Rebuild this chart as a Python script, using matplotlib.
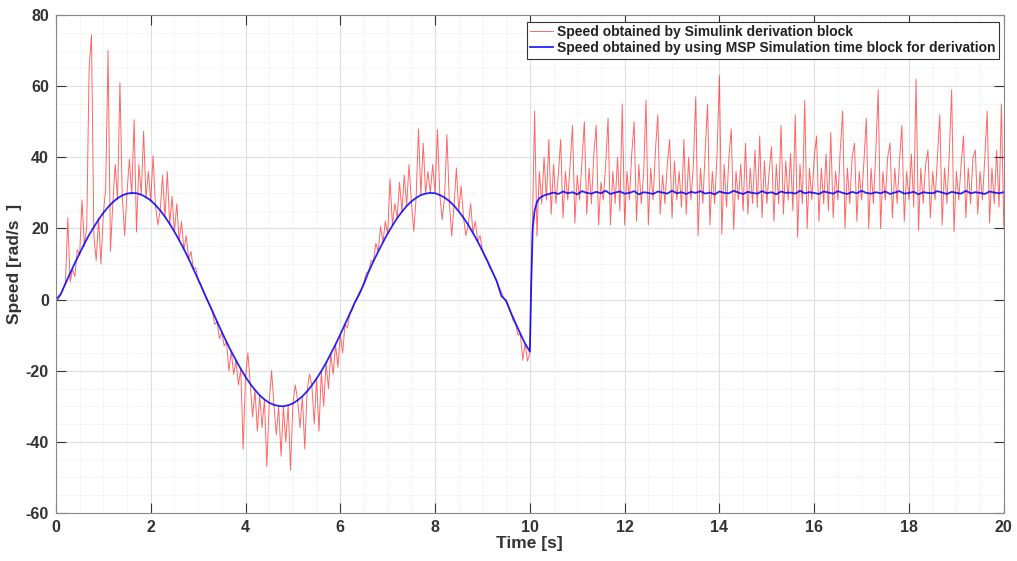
import numpy as np
import matplotlib
matplotlib.use("Agg")
import matplotlib.pyplot as plt
from matplotlib.ticker import MultipleLocator

plt.rcParams['font.family'] = ['Liberation Sans', 'DejaVu Sans']
plt.rcParams['font.weight'] = 'bold'
plt.rcParams['axes.unicode_minus'] = False

#=====DATA=====
# red : Simulink derivation block, sampled every 0.05 s
red_time_a = np.linspace(0, 10, 201)
red_speed_a = [
    0, 0, 1.5, 3.0, 4.5, 23, 5.0, 8.5, 6.5, 14,
    12.5, 28, 15.0, 20.5, 65, 74.5, 18.0, 11.0, 23.0, 10.0,
    24.0, 31.5, 70, 13.6, 27.0, 38, 28.0, 61, 29.0, 18,
    30, 39.5, 29.5, 50.6, 19.0, 38, 29.5, 47.3, 28.5, 36,
    27.5, 40.5, 26.5, 21, 25, 35, 23, 36, 21, 29,
    19, 27, 16.5, 22, 14, 18, 11.5, 13.5, 8.6, 9,
    5.5, 4.5, 2.7, 1.0, -0.3, -1.8, -3.2, -7, -6.2, -11,
    -9.1, -13, -12.0, -20, -14.6, -21, -17.1, -24, -19.5, -42,
    -21.7, -15, -23.7, -33, -25.4, -37, -26.9, -36, -28, -47,
    -29, -20, -29.6, -38, -30, -44, -30, -40, -29.7, -48,
    -29.2, -24, -28.3, -36, -27.2, -42, -25.8, -21, -24.1, -35,
    -22.2, -37, -20.1, -30, -17.8, -25, -15.2, -21, -12.6, -19,
    -9.8, -15, -6.9, -8, -4.0, -3, -1.0, 0.5, 2.0, 3.0,
    5.0, 7.5, 7.9, 11, 10.8, 15.9, 13.5, 20.6, 16.1, 22,
    18.6, 34, 20.8, 27, 22.9, 33, 24.7, 35, 26.3, 38,
    27.6, 19.2, 28.6, 48, 29.4, 44, 29.8, 36, 30, 38,
    29.9, 47.8, 29.4, 22.5, 28.7, 46.4, 27.7, 17.8, 26.4, 37,
    24.8, 32, 23.0, 18, 21.0, 27, 18.7, 22, 16.3, 18,
    13.7, 12, 11.0, 9, 8.1, 6.5, 5.2, 3.5, 2.2, 0.5,
    -0.8, -2, -3.7, -6, -6.7, -10, -9.6, -17, -12.4, -17.3,
    -15.0,
]
red_time_b = np.linspace(10.05, 20.0, 200)
red_speed_b = [
    18, 53, 17.8, 36, 27, 40, 28, 45, 24, 38,
    27, 35, 45, 23, 36, 28, 38, 49, 21.5, 35,
    28, 39, 50, 24, 37, 27, 41, 49, 21, 33,
    28, 38, 51, 21, 36, 27, 40, 25, 55, 21,
    36, 28, 41, 50, 22, 38, 27, 35, 56, 21,
    37, 28, 42, 52, 24, 35, 27, 38, 45, 23,
    39, 28, 36, 26, 45, 24, 40, 28, 38, 57,
    18, 37, 27, 42, 55, 21, 36, 27, 41, 63,
    18.3, 38, 26, 40, 48, 19.7, 36, 28, 38, 25,
    44, 24, 37, 27, 42, 26, 46, 23, 39, 27,
    36, 43, 22, 38, 27, 49, 24, 39, 28, 41,
    25, 52, 17.5, 38, 27, 56, 20, 37, 28, 40,
    46, 22, 37, 27, 41, 25, 47, 23, 36, 28,
    42, 53, 20, 37, 27, 40, 44, 22, 36, 28,
    39, 51, 20, 37, 27, 42, 59, 20, 36, 28,
    40, 44, 23, 37, 27, 39, 49, 22, 36, 28,
    41, 26, 62, 19.5, 37, 27, 38, 42, 23, 36,
    28, 40, 52, 21, 37, 27, 41, 59, 19, 36,
    28, 38, 46, 23, 37, 27, 40, 42, 24, 36,
    28, 40, 53, 21.5, 37, 27, 42, 26, 55, 20.5,
]

# blue : MSP simulation time block
blue_time_a = np.linspace(0, 10, 101)
blue_speed_a = [
    0, 1.5, 4.5, 7.4, 10.3, 13.0, 15.7, 18.2, 20.4, 22.5,
    24.4, 26.0, 27.4, 28.5, 29.3, 29.8, 30.0, 29.9, 29.5, 28.8,
    27.9, 26.6, 25.1, 23.3, 21.3, 19.1, 16.7, 14.2, 11.5, 8.6,
    5.7, 2.7, -0.3, -3.2, -6.2, -9.1, -11.9, -14.6, -17.1, -19.5,
    -21.7, -23.7, -25.4, -26.9, -28.1, -29.0, -29.6, -29.9, -30.0, -29.7,
    -29.2, -28.3, -27.2, -25.8, -24.1, -22.2, -20.1, -17.8, -15.2, -12.6,
    -9.8, -6.9, -4.0, -1.0, 1.5, 4.5, 7.9, 10.8, 13.5, 16.1,
    18.6, 20.8, 22.9, 24.7, 26.3, 27.6, 28.6, 29.4, 29.8, 30.0,
    29.9, 29.4, 28.7, 27.7, 26.4, 24.8, 23.0, 21.0, 18.7, 16.3,
    13.7, 11.0, 8.1, 5.2, 1.0, -0.3, -3.7, -6.7, -9.6, -12.4,
    -14.6,
]
blue_time_b = [10.03, 10.06, 10.1, 10.15, 10.2, 10.3, 10.4]
blue_speed_b = [5, 20, 25, 27.5, 28.5, 29.3, 29.7]
blue_time_c = np.linspace(10.5, 20.0, 96)
blue_speed_c = [
    30.1, 29.7, 30.4, 29.9, 30.2, 29.6, 30.5, 30.0, 29.8, 30.3,
    29.9, 30.6, 29.7, 30.1, 30.4, 29.8, 30.0, 30.5, 29.6, 30.2,
    30.0, 29.7, 30.4, 30.1, 29.8, 30.6, 29.9, 30.2, 29.7, 30.3,
    30.0, 30.5, 29.8, 30.1, 29.6, 30.4, 30.0, 29.9, 30.6, 30.1,
    29.7, 30.3, 30.0, 29.8, 30.5, 29.9, 30.2, 29.6, 30.4, 30.0,
    30.1, 29.8, 30.6, 29.9, 30.2, 30.0, 29.7, 30.4, 30.1, 29.8,
    30.5, 30.0, 29.7, 30.3, 29.9, 30.6, 30.0, 29.8, 30.2, 29.9,
    30.4, 29.7, 30.1, 30.5, 29.8, 30.0, 30.3, 29.6, 30.2, 30.0,
    29.9, 30.5, 30.1, 29.7, 30.3, 30.0, 29.8, 30.6, 29.9, 30.2,
    30.0, 29.7, 30.4, 30.1, 29.9, 30.2,
]

red_t = np.concatenate([red_time_a, red_time_b])
red_v = np.concatenate([red_speed_a, red_speed_b])
blue_t = np.concatenate([blue_time_a, blue_time_b, blue_time_c])
blue_v = np.concatenate([blue_speed_a, blue_speed_b, blue_speed_c])

#=====FRONTEND=====
fig = plt.figure(figsize=(10.17, 5.61), dpi=100)
ax = fig.add_axes([0.055, 0.0856, 0.932, 0.8875])

ax.plot(red_t, red_v, color="red", lw=0.7, alpha=0.6,
        label="Speed obtained by Simulink derivation block")
ax.plot(blue_t, blue_v, color="blue", lw=1.3, alpha=0.85,
        label="Speed obtained by using MSP Simulation time block for derivation")

ax.set_xlim(0, 20)
ax.set_ylim(-60, 80)
ax.xaxis.set_major_locator(MultipleLocator(2))
ax.yaxis.set_major_locator(MultipleLocator(20))
ax.xaxis.set_minor_locator(MultipleLocator(0.5))
ax.yaxis.set_minor_locator(MultipleLocator(5))

ax.grid(which="major", color="#dedede", lw=0.8, ls="-")
ax.grid(which="minor", color="#e4e4e4", lw=0.6, ls=":")
ax.set_axisbelow(True)

ax.tick_params(which="major", direction="in", length=7, top=True, right=True,
               labelsize=11.5, colors="#333333", width=0.8, pad=5)
ax.tick_params(which="minor", length=0, top=True, right=True)
for lab in ax.get_xticklabels() + ax.get_yticklabels():
    lab.set_fontweight("bold")
for sp in ax.spines.values():
    sp.set_color("#888888")
    sp.set_linewidth(0.8)

ax.set_xlabel("Time [s]", fontsize=12.5, fontweight="bold", color="#333333", labelpad=1)
ax.set_ylabel("Speed [rad/s  ]", fontsize=12.5, fontweight="bold", color="#333333", labelpad=3)

leg = ax.legend(loc="upper right", bbox_to_anchor=(0.9947, 0.9866), borderaxespad=0,
                fontsize=10, handlelength=1.6, handletextpad=0.3, borderpad=0.25,
                labelspacing=0.15, fancybox=False, framealpha=1)
leg.get_frame().set_edgecolor("#333333")
leg.get_frame().set_linewidth(0.8)
for txt in leg.get_texts():
    txt.set_fontweight("bold")
    txt.set_color("#222222")

plt.savefig("out.png", dpi=100)
